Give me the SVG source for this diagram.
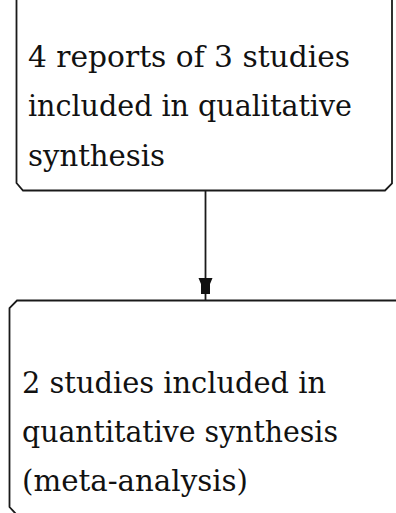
<svg xmlns="http://www.w3.org/2000/svg" width="396" height="513" viewBox="0 0 396 513">
<style>
.box{fill:#fff;stroke:#1a1a1a;stroke-width:1.8}
.t{font-family:"DejaVu Serif","Liberation Serif",serif;font-size:30px;fill:#111}
.conn{stroke:#1a1a1a;stroke-width:1.8;fill:none}
</style>
<rect width="396" height="513" fill="#fff"/>
<g id="node-qualitative">
<path class="box" d="M16.5,-10 L16.5,183 L23,190.5 L385,190.5 L392,183.5 L392,-10"/>
<text class="t" x="28" y="67" textLength="322" lengthAdjust="spacingAndGlyphs">4 reports of 3 studies</text>
<text class="t" x="28" y="116" textLength="324" lengthAdjust="spacingAndGlyphs">included in qualitative</text>
<text class="t" x="28" y="166" textLength="137" lengthAdjust="spacingAndGlyphs">synthesis</text>
</g>
<g id="node-quantitative">
<path class="box" d="M410,300.5 L17,300.5 L9.5,308 L9.5,507 L16,514"/>
<text class="t" x="22" y="393" textLength="304" lengthAdjust="spacingAndGlyphs">2 studies included in</text>
<text class="t" x="22" y="442" textLength="316" lengthAdjust="spacingAndGlyphs">quantitative synthesis</text>
<text class="t" x="22" y="491" textLength="226" lengthAdjust="spacingAndGlyphs">(meta-analysis)</text>
</g>
<g id="connectors">
<line class="conn" x1="205.5" y1="191" x2="205.5" y2="300"/>
<polygon fill="#111" points="198.5,278 212.5,278 210,284 210,294 201,294 201,284"/>
</g>
</svg>
